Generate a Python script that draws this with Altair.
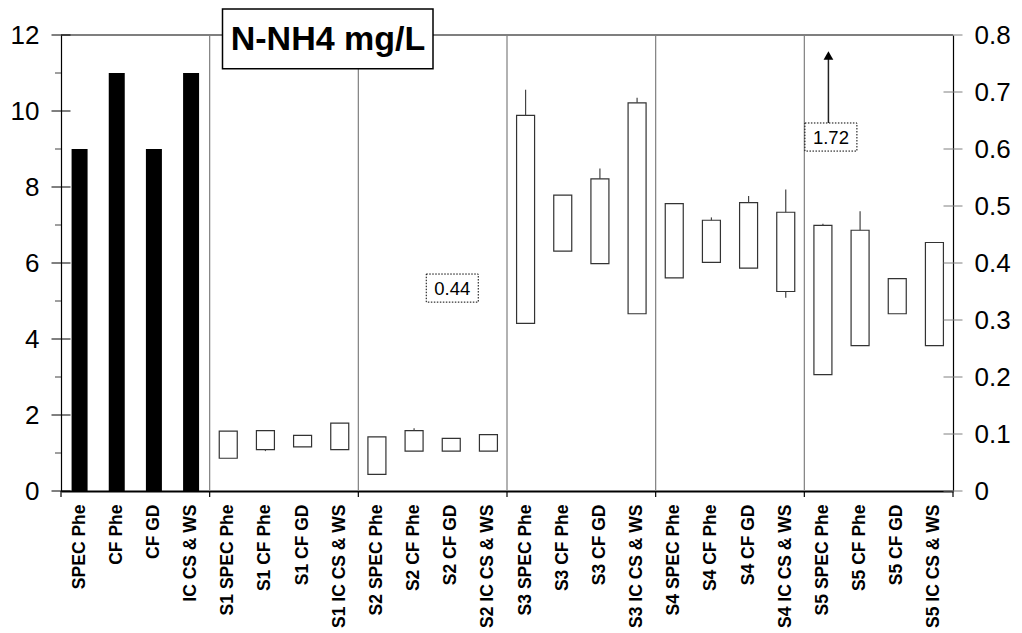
import altair as alt
import pandas as pd

FONT = "Liberation Sans"
W, H = 892, 456

categories = [
    "SPEC Phe", "CF Phe", "CF GD", "IC CS & WS",
    "S1 SPEC Phe", "S1 CF Phe", "S1 CF GD", "S1 IC CS & WS",
    "S2 SPEC Phe", "S2 CF Phe", "S2 CF GD", "S2 IC CS & WS",
    "S3 SPEC Phe", "S3 CF Phe", "S3 CF GD", "S3 IC CS & WS",
    "S4 SPEC Phe", "S4 CF Phe", "S4 CF GD", "S4 IC CS & WS",
    "S5 SPEC Phe", "S5 CF Phe", "S5 CF GD", "S5 IC CS & WS",
]
bar_categories = categories[:4]
bar_values = [9, 11, 9, 11]

box_categories = categories[4:]
box_low = [0.0575, 0.0725, 0.0775, 0.0725,
           0.029, 0.070, 0.070, 0.070,
           0.294, 0.421, 0.399, 0.311,
           0.374, 0.401, 0.391, 0.350,
           0.204, 0.255, 0.311, 0.255]
box_high = [0.105, 0.106, 0.0975, 0.119,
            0.095, 0.106, 0.0925, 0.099,
            0.659, 0.519, 0.5475, 0.681,
            0.504, 0.475, 0.506, 0.489,
            0.466, 0.4575, 0.3725, 0.436]
whisker_top = [None, None, None, None,
               None, 0.110, None, None,
               0.704, None, 0.566, 0.690,
               None, 0.480, 0.5175, 0.529,
               0.469, 0.491, None, None]
whisker_bottom = [None, 0.070, None, None,
                  None, None, None, None,
                  None, None, None, None,
                  None, None, None, 0.339,
                  None, None, None, None]

left_major = [0, 2, 4, 6, 8, 10, 12]
left_minor = [1, 3, 5, 7, 9, 11]
right_ticks = [0, 0.1, 0.2, 0.3, 0.4, 0.5, 0.6, 0.7, 0.8]

group_starts = ["S1 SPEC Phe", "S2 SPEC Phe", "S3 SPEC Phe", "S4 SPEC Phe", "S5 SPEC Phe"]
boundary_starts = ["SPEC Phe"] + group_starts
last_category = categories[-1]

note_categories = ["S2 CF GD", "S5 SPEC Phe"]
note_y = [0.356, 0.621]
note_text = ["0.44", "1.72"]
note_dx = [1, 8]

arrow_category = "S5 SPEC Phe"
arrow_from = 0.645
arrow_to = 0.764

title_text = "N-NH4 mg/L"

# ---------- data frames ----------
bars_df = pd.DataFrame({"cat": bar_categories, "v": bar_values})
box_df = pd.DataFrame({"cat": box_categories, "low": box_low, "high": box_high})
wt = [{"cat": c, "lo": h, "hi": t} for c, h, t in zip(box_categories, box_high, whisker_top) if t is not None]
wb = [{"cat": c, "lo": b, "hi": l} for c, l, b in zip(box_categories, box_low, whisker_bottom) if b is not None]
whisk_df = pd.DataFrame(wt + wb)
lmaj_df = pd.DataFrame({"v": left_major})
lmin_df = pd.DataFrame({"v": left_minor})
rt_df = pd.DataFrame({"v": right_ticks})
sep_df = pd.DataFrame({"cat": group_starts})
bnd_df = pd.DataFrame({"cat": boundary_starts})
end_df = pd.DataFrame({"cat": [last_category]})
arrow_df = pd.DataFrame({"cat": [arrow_category], "a": [arrow_from], "b": [arrow_to]})
title_df = pd.DataFrame({"t": [title_text]})

x_scale = alt.Scale(domain=categories, paddingInner=0, paddingOuter=0)
x_axis = alt.Axis(
    orient="bottom", labelAngle=270, labelAlign="right", labelBaseline="middle",
    labelFont=FONT, labelFontWeight="bold", labelFontSize=17.5, labelColor="black",
    labelPadding=13, ticks=False, domainColor="black", domainWidth=2,
    labelLimit=300, labelOverlap=False, grid=False, title=None,
)


def xenc(band=None):
    kw = dict(sort=categories, scale=x_scale, title=None, axis=x_axis)
    if band is not None:
        kw["bandPosition"] = band
    return alt.X("cat:N", **kw)


left_scale = alt.Scale(domain=[0, 12], nice=False, zero=True)
right_scale = alt.Scale(domain=[0, 0.8], nice=False, zero=True)

left_axis = alt.Axis(
    orient="left", values=left_major, ticks=False, grid=False, title=None,
    labelFont=FONT, labelFontSize=26, labelColor="black", labelPadding=22,
    domainColor="black", domainWidth=1.2,
)
right_axis = alt.Axis(
    orient="right", values=right_ticks, format="~g", ticks=False, grid=False, title=None,
    labelFont=FONT, labelFontSize=26, labelColor="black", labelPadding=21,
    domainColor="black", domainWidth=1.2,
)


def yl(field):
    return alt.Y(field, scale=left_scale, axis=left_axis, title=None)


def yr(field):
    return alt.Y(field, scale=right_scale, axis=right_axis, title=None)


# ---------- left layer ----------
top_border = alt.Chart(title_df).mark_rule(color="black", strokeWidth=1.2).encode(
    x=alt.value(0), x2=alt.value(W), y=alt.value(0)
)
separators = alt.Chart(sep_df).mark_rule(color="#7f7f7f", strokeWidth=1.2).encode(x=xenc(band=0))
xticks = alt.Chart(bnd_df).mark_rule(color="black", strokeWidth=1.2).encode(
    x=xenc(band=0), y=alt.value(H), y2=alt.value(H + 6)
)
xtick_end = alt.Chart(end_df).mark_rule(color="black", strokeWidth=1.2).encode(
    x=xenc(band=1), y=alt.value(H), y2=alt.value(H + 6)
)
bars = alt.Chart(bars_df).mark_bar(size=16, color="black").encode(x=xenc(), y=yl("v:Q"))
lmaj = alt.Chart(lmaj_df).mark_rule(color="black", strokeWidth=1).encode(
    x=alt.value(-9.5), x2=alt.value(9.5), y=yl("v:Q")
)
lmin = alt.Chart(lmin_df).mark_rule(color="#404040", strokeWidth=1).encode(
    x=alt.value(-6), x2=alt.value(0), y=yl("v:Q")
)
left = alt.layer(top_border, separators, xticks, xtick_end, bars, lmaj, lmin)

# ---------- right layer ----------
boxes = alt.Chart(box_df).mark_bar(size=18, fill="white", stroke="#333333", strokeWidth=1.2).encode(
    x=xenc(), y=yr("low:Q"), y2="high:Q"
)
whiskers = alt.Chart(whisk_df).mark_rule(color="#444444", strokeWidth=1.2).encode(
    x=xenc(), y=yr("lo:Q"), y2="hi:Q"
)
rticks = alt.Chart(rt_df).mark_rule(color="#808080", strokeWidth=1).encode(
    x=alt.value(W - 9.5), x2=alt.value(W + 9.5), y=yr("v:Q")
)
arrow_line = alt.Chart(arrow_df).mark_rule(color="#222222", strokeWidth=1.5, xOffset=5.5).encode(
    x=xenc(), y=yr("a:Q"), y2="b:Q"
)
arrow_head = alt.Chart(arrow_df).mark_point(
    shape="triangle-up", size=95, filled=True, color="black", opacity=1, xOffset=5.5
).encode(x=xenc(), y=yr("b:Q"))

note_layers = []
box_path = "M-1,-0.54L1,-0.54L1,0.54L-1,0.54Z"
for c, yv, t, dx in zip(note_categories, note_y, note_text, note_dx):
    ndf = pd.DataFrame({"cat": [c], "y": [yv], "t": [t]})
    nbox = alt.Chart(ndf).mark_point(
        shape=box_path, size=52 * 52, fill="white", fillOpacity=1, stroke="black",
        strokeWidth=1, strokeDash=[1.5, 1.5], opacity=1, xOffset=dx,
    ).encode(x=xenc(), y=yr("y:Q"))
    ntext = alt.Chart(ndf).mark_text(
        font=FONT, fontSize=18.5, color="black", align="center", baseline="middle", dx=dx, dy=1
    ).encode(x=xenc(), y=yr("y:Q"), text="t:N")
    note_layers += [nbox, ntext]

title_box = alt.Chart(title_df).mark_rect(fill="white", stroke="black", strokeWidth=1.5).encode(
    x=alt.value(161.5), x2=alt.value(372), y=alt.value(-26), y2=alt.value(33.7)
)
title_mark = alt.Chart(title_df).mark_text(
    font=FONT, fontSize=34, fontWeight="bold", color="black", align="center", baseline="middle"
).encode(x=alt.value(267), y=alt.value(4.5), text="t:N")

right = alt.layer(boxes, whiskers, rticks, arrow_line, arrow_head, *note_layers, title_box, title_mark)

chart = (
    alt.layer(left, right)
    .resolve_scale(y="independent")
    .properties(
        width=W, height=H,
        autosize=alt.AutoSizeParams(type="none"),
        padding={"left": 61, "top": 35, "right": 69, "bottom": 142},
        background="white",
    )
    .configure_view(stroke=None)
)

chart.save("out.html", embed_options={"renderer": "svg", "actions": False})
